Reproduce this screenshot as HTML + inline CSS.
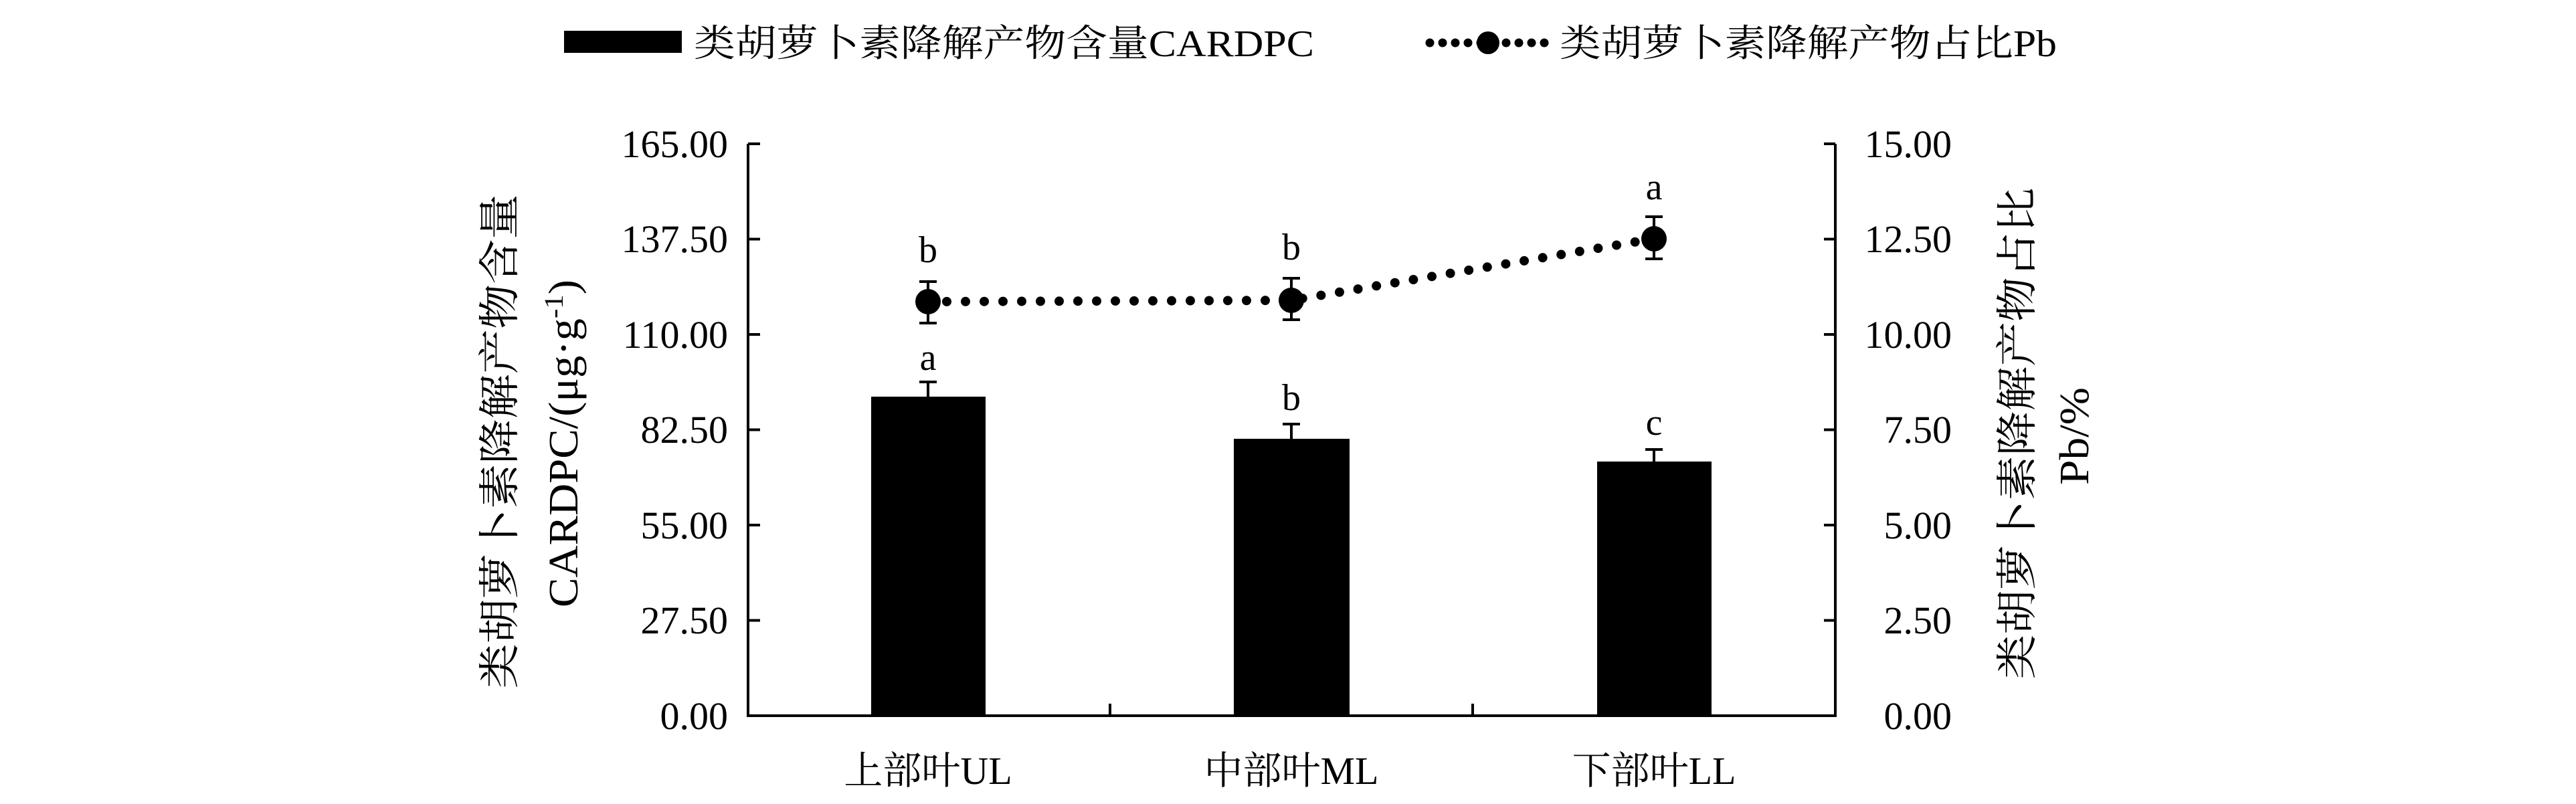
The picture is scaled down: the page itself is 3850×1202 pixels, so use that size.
<!DOCTYPE html>
<html><head><meta charset="utf-8"><style>
html,body{margin:0;padding:0;background:#fff}
svg{display:block}
text{font-family:"Liberation Serif","Noto Serif CJK SC",serif;fill:#000}
</style></head><body>
<svg width="3850" height="1202" viewBox="0 0 3850 1202" xmlns="http://www.w3.org/2000/svg">
<!-- legend -->
<rect x="843" y="46" width="176" height="33" fill="#000"/>
<text x="1037" y="84" font-size="56" textLength="927" lengthAdjust="spacingAndGlyphs">类胡萝卜素降解产物含量CARDPC</text>
<line x1="2137" y1="64" x2="2312" y2="64" stroke="#000" stroke-width="13" stroke-linecap="round" stroke-dasharray="0 19"/>
<circle cx="2224" cy="64" r="17" fill="#000"/>
<text x="2331" y="84" font-size="56" textLength="743" lengthAdjust="spacingAndGlyphs">类胡萝卜素降解产物占比Pb</text>

<!-- axes -->
<g stroke="#000" stroke-width="4" fill="none">
<line x1="1118" y1="215" x2="1118" y2="1072"/>
<line x1="2743" y1="215" x2="2743" y2="1072"/>
<line x1="1116" y1="1070" x2="2745" y2="1070"/>
<!-- left ticks -->
<path d="M1118 215H1136M1118 357.5H1136M1118 500H1136M1118 642.5H1136M1118 785H1136M1118 927.5H1136"/>
<path d="M2743 215H2726M2743 357.5H2726M2743 500H2726M2743 642.5H2726M2743 785H2726M2743 927.5H2726"/>
<path d="M1659 1070V1052M2201 1070V1052"/>
</g>
<g font-size="58" text-anchor="end">
<text x="1088" y="235">165.00</text>
<text x="1088" y="377">137.50</text>
<text x="1088" y="520">110.00</text>
<text x="1088" y="662">82.50</text>
<text x="1088" y="805">55.00</text>
<text x="1088" y="947">27.50</text>
<text x="1088" y="1090">0.00</text>
<text x="2917" y="235">15.00</text>
<text x="2917" y="377">12.50</text>
<text x="2917" y="520">10.00</text>
<text x="2917" y="662">7.50</text>
<text x="2917" y="805">5.00</text>
<text x="2917" y="947">2.50</text>
<text x="2917" y="1090">0.00</text>
</g>

<!-- x labels -->
<g font-size="58" text-anchor="middle">
<text x="1387" y="1172">上部叶UL</text>
<text x="1930" y="1172">中部叶ML</text>
<text x="2472" y="1172">下部叶LL</text>
</g>

<!-- axis titles -->
<text transform="translate(768,660) rotate(-90)" font-size="62" text-anchor="middle" textLength="739" lengthAdjust="spacingAndGlyphs">类胡萝卜素降解产物含量</text>
<text transform="translate(863,663) rotate(-90)" font-size="62" text-anchor="middle" textLength="490" lengthAdjust="spacingAndGlyphs">CARDPC/(μg·g<tspan dy="-22" font-size="40">-1</tspan><tspan dy="22">)</tspan></text>
<text transform="translate(3036,648) rotate(-90)" font-size="62" text-anchor="middle" textLength="735" lengthAdjust="spacingAndGlyphs">类胡萝卜素降解产物占比</text>
<text transform="translate(3121,652) rotate(-90)" font-size="62" text-anchor="middle" textLength="146" lengthAdjust="spacingAndGlyphs">Pb/%</text>

<!-- bars -->
<rect x="1302" y="593" width="171" height="477" fill="#000"/>
<rect x="1844" y="656" width="173" height="414" fill="#000"/>
<rect x="2387" y="690" width="171" height="380" fill="#000"/>
<g stroke="#000" stroke-width="4">
<path d="M1387 571V593M1374 571H1400"/>
<path d="M1930 634V677M1917 634H1943M1917 677H1943"/>
<path d="M2472 672V711M2459 672H2485M2459 711H2485"/>
</g>

<!-- line -->
<polyline points="1387,451 1930,449 2472,357" fill="none" stroke="#000" stroke-width="14" stroke-linecap="round" stroke-dasharray="0 28"/>
<g stroke="#000" stroke-width="4">
<path d="M1387 421V483M1374 421H1400M1374 483H1400"/>
<path d="M1930 416V478M1917 416H1943M1917 478H1943"/>
<path d="M2472 324V387M2459 324H2485M2459 387H2485"/>
</g>
<circle cx="1387" cy="451" r="19" fill="#000"/>
<circle cx="1930" cy="449" r="19" fill="#000"/>
<circle cx="2472" cy="357" r="19" fill="#000"/>

<!-- letters -->
<g font-size="56" text-anchor="middle">
<text x="1387" y="392">b</text>
<text x="1930" y="388">b</text>
<text x="2472" y="298">a</text>
<text x="1387" y="553">a</text>
<text x="1930" y="613">b</text>
<text x="2472" y="650">c</text>
</g>
</svg>
</body></html>
